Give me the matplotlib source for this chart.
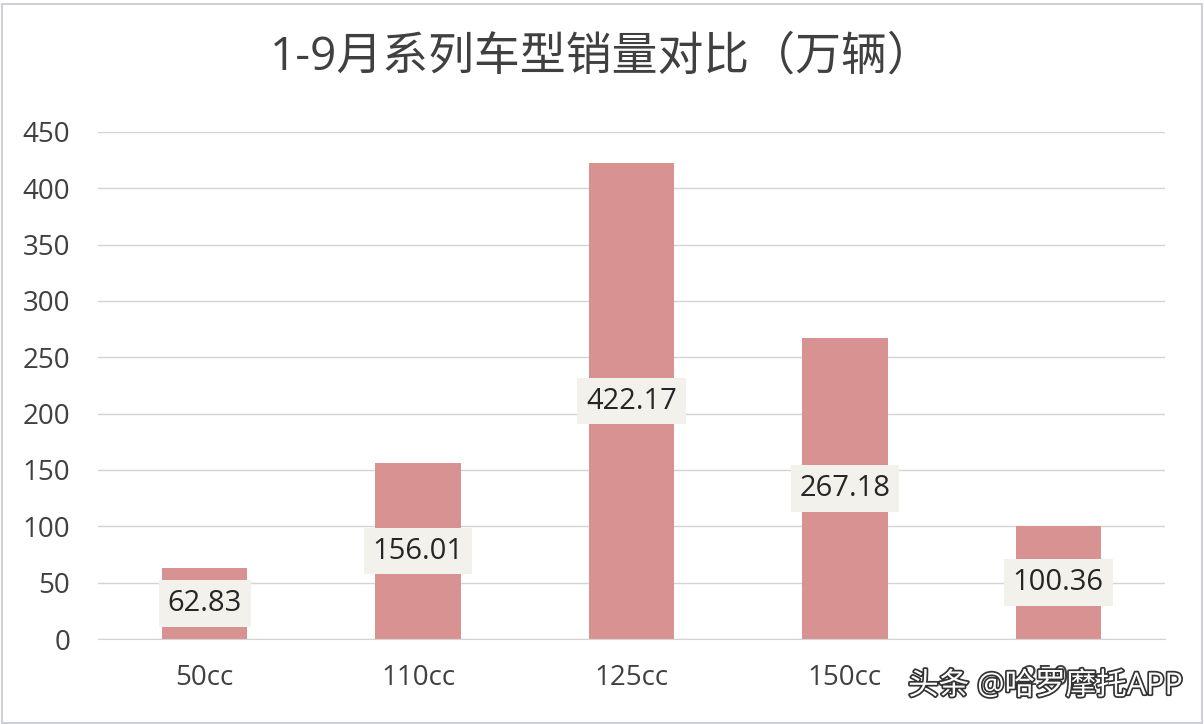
import matplotlib
matplotlib.use("Agg")
import matplotlib.pyplot as plt
import matplotlib.patheffects as pe

plt.rcParams['font.family'] = ['Open Sans', 'Noto Sans CJK SC', 'DejaVu Sans']

categories = ["50cc", "110cc", "125cc", "150cc", "250cc"]
sales = [62.83, 156.01, 422.17, 267.18, 100.36]
yticks = [0, 50, 100, 150, 200, 250, 300, 350, 400, 450]
title = "1-9月系列车型销量对比（万辆）"
watermark = "头条 @哈罗摩托APP"

fig = plt.figure(figsize=(12.04, 7.24), dpi=100)
fig.patch.set_facecolor("white")
ax = fig.add_axes([0.0814, 0.1174, 0.8862, 0.7003])

x = range(len(categories))
ax.bar(x, sales, width=0.4, color="#d99292", zorder=2)

# value labels in the middle of each bar
for i, v in enumerate(sales):
    ax.text(i, v / 2, "{:.2f}".format(v), ha="center", va="center",
            fontsize=21, color="#262626", zorder=3,
            bbox=dict(boxstyle="square,pad=0.3", fc="#f2f1ec", ec="none"))

ax.set_xlim(-0.5, 4.5)
ax.set_ylim(0, 450)
ax.set_yticks(yticks)
ax.set_xticks(list(x))
ax.set_xticklabels(categories)
ax.tick_params(axis="both", length=0, labelsize=20, labelcolor="#404040")
ax.tick_params(axis="x", pad=18)
ax.tick_params(axis="y", pad=20)
ax.grid(axis="y", color="#d4d4d4", linewidth=1, zorder=0)
for s in ["top", "right", "left"]:
    ax.spines[s].set_visible(False)
ax.spines["bottom"].set_color("#d4d4d4")

fig.text(0.5, 0.921, title, ha="center", va="center", fontsize=33, color="#404040")

# watermark sits over the last category label, as in the source picture
fig.text(0.982, 0.052, watermark, ha="right", va="center", fontsize=22, color="white",
         path_effects=[pe.withStroke(linewidth=2.5, foreground="#333333")])

# thin border round the picture
border = plt.Rectangle((0.002, 0.002), 0.996, 0.993, transform=fig.transFigure,
                       fill=False, ec="#cfcfd8", lw=1.5)
fig.patches.append(border)

fig.savefig("out.png", dpi=100)
